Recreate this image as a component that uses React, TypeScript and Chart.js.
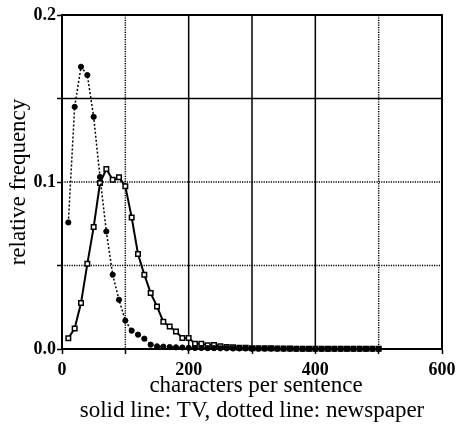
import React, { useEffect, useRef } from "react";
import { Chart, registerables } from "chart.js";

Chart.register(...registerables);

const charCounts = [
  10, 20, 30, 40, 50, 60, 70, 80, 90, 100,
  110, 120, 130, 140, 150, 160, 170, 180, 190, 200,
  210, 220, 230, 240, 250, 260, 270, 280, 290, 300,
  310, 320, 330, 340, 350, 360, 370, 380, 390, 400,
  410, 420, 430, 440, 450, 460, 470, 480, 490, 500,
];

const tvFreq = [
  0.0064, 0.0123, 0.0275, 0.051, 0.073, 0.0994, 0.1078, 0.1014, 0.1028, 0.0974,
  0.0788, 0.0569, 0.0445, 0.0335, 0.0255, 0.0163, 0.0135, 0.0105, 0.0066, 0.0066,
  0.0032, 0.0032, 0.0022, 0.0024, 0.0016, 0.0012, 0.001, 0.0008, 0.0007, 0.0005,
  0.0005, 0.0004, 0.0004, 0.0003, 0.0003, 0.0003, 0.0002, 0.0002, 0.0002, 0.0002,
  0.0001, 0.0002, 0.0001, 0.0001, 0.0001, 0.0001, 0.0001, 0.0001, 0.0001, 0.0001,
];

const newspaperFreq = [
  0.0758, 0.145, 0.169, 0.164, 0.139, 0.103, 0.0704, 0.0445, 0.0295, 0.017,
  0.011, 0.0086, 0.0062, 0.0026, 0.0016, 0.0014, 0.0012, 0.001, 0.0009, 0.0007,
  0.0006, 0.0006, 0.0005, 0.0005, 0.0004, 0.0004, 0.0003, 0.0003, 0.0003, 0.0002,
  0.0002, 0.0002, 0.0002, 0.0002, 0.0001, 0.0001, 0.0001, 0.0001, 0.0001, 0.0001,
  0.0001, 0.0001, 0.0001, 0.0001, 0.0001, 0.0001, 0.0001, 0.0001, 0.0001, 0.0001,
];

const xTickLabels = [0, 200, 400, 600];
const yTickLabels = ["0.0", "0.1", "0.2"];
const xSolidGrid = [200, 300, 400];
const xDottedGrid = [100, 500];
const ySolidGrid = [0.15];
const yDottedGrid = [0.05, 0.1];

const xTitle = "characters per sentence";
const caption = "solid line: TV, dotted line: newspaper";
const yTitle = "relative frequency";

const SERIF = "'Liberation Serif', 'Times New Roman', serif";

const framePlugin = {
  id: "framePlugin",
  beforeDatasetsDraw(chart: any) {
    const { ctx, chartArea, scales } = chart;
    const xs = scales.x;
    const ys = scales.y;
    ctx.save();
    ctx.strokeStyle = "#000";
    const line = (x1: number, y1: number, x2: number, y2: number, dash: number[], w: number) => {
      ctx.beginPath();
      ctx.setLineDash(dash);
      ctx.lineWidth = w;
      ctx.moveTo(x1, y1);
      ctx.lineTo(x2, y2);
      ctx.stroke();
    };
    xSolidGrid.forEach((v) => {
      const px = xs.getPixelForValue(v);
      line(px, chartArea.top, px, chartArea.bottom, [], 1.5);
    });
    xDottedGrid.forEach((v) => {
      const px = xs.getPixelForValue(v);
      line(px, chartArea.top, px, chartArea.bottom, [1.2, 1.2], 1.5);
    });
    ySolidGrid.forEach((v) => {
      const py = ys.getPixelForValue(v);
      line(chartArea.left, py, chartArea.right, py, [], 1.5);
    });
    yDottedGrid.forEach((v) => {
      const py = ys.getPixelForValue(v);
      line(chartArea.left, py, chartArea.right, py, [1.2, 1.2], 1.5);
    });
    // frame top and right
    line(chartArea.left, chartArea.top, chartArea.right + 1, chartArea.top, [], 2);
    line(chartArea.right, chartArea.top, chartArea.right, chartArea.bottom, [], 2);
    ctx.restore();
  },
  afterDraw(chart: any) {
    const { ctx, chartArea } = chart;
    ctx.save();
    ctx.fillStyle = "#000";
    ctx.font = `23px ${SERIF}`;
    ctx.textAlign = "center";
    ctx.textBaseline = "alphabetic";
    const cx = (chartArea.left + chartArea.right) / 2;
    ctx.fillText(xTitle, cx + 4, chartArea.bottom + 43);
    ctx.fillText(caption, cx, chartArea.bottom + 68);
    ctx.translate(25, (chartArea.top + chartArea.bottom) / 2);
    ctx.rotate(-Math.PI / 2);
    ctx.fillText(yTitle, 0, 0);
    ctx.restore();
  },
};

export default function App() {
  const canvasRef = useRef<HTMLCanvasElement | null>(null);

  useEffect(() => {
    if (!canvasRef.current) return;
    const tvPoints = charCounts.map((x, i) => ({ x, y: tvFreq[i] }));
    const newsPoints = charCounts.map((x, i) => ({ x, y: newspaperFreq[i] }));
    const chart = new Chart(canvasRef.current, {
      type: "line",
      data: {
        datasets: [
          {
            label: "newspaper",
            data: newsPoints,
            borderColor: "#000",
            backgroundColor: "#000",
            borderWidth: 1.5,
            borderDash: [2, 2],
            pointStyle: "circle",
            pointRadius: 2.6,
            pointBackgroundColor: "#000",
            pointBorderColor: "#000",
            pointBorderWidth: 1,
            tension: 0,
            clip: false,
          },
          {
            label: "TV",
            data: tvPoints,
            borderColor: "#000",
            backgroundColor: "#fff",
            borderWidth: 2,
            pointStyle: "rect",
            pointRadius: 3.2,
            pointBackgroundColor: "#fff",
            pointBorderColor: "#000",
            pointBorderWidth: 1.5,
            tension: 0,
            clip: false,
          },
        ],
      },
      options: {
        animation: false,
        responsive: false,
        devicePixelRatio: 1,
        layout: { padding: { left: 0, right: 15, top: 15, bottom: 0 } },
        plugins: {
          legend: { display: false },
          tooltip: { enabled: false },
          title: { display: false },
        },
        scales: {
          x: {
            type: "linear",
            min: 0,
            max: 600,
            afterFit: (scale: any) => {
              scale.height = 81;
              scale.paddingLeft = 0;
              scale.paddingRight = 0;
            },
            ticks: {
              stepSize: 100,
              autoSkip: false,
              maxRotation: 0,
              padding: 6,
              color: "#000",
              font: { family: SERIF, size: 18, weight: "bold" },
              callback: (v: any) => (xTickLabels.includes(Number(v)) ? String(v) : ""),
            },
            grid: {
              drawOnChartArea: false,
              drawTicks: true,
              tickLength: 5,
              tickColor: "#000",
              tickWidth: 1.5,
            },
            border: { display: true, color: "#000", width: 2 },
          },
          y: {
            type: "linear",
            min: 0,
            max: 0.2,
            afterFit: (scale: any) => {
              scale.width = 62;
              scale.paddingTop = 0;
              scale.paddingBottom = 0;
            },
            ticks: {
              stepSize: 0.05,
              autoSkip: false,
              padding: 1,
              color: "#000",
              font: { family: SERIF, size: 18, weight: "bold" },
              callback: (v: any) => {
                const s = Number(v).toFixed(1);
                const isMajor = Math.abs(Number(v) * 10 - Math.round(Number(v) * 10)) < 1e-6;
                return isMajor && yTickLabels.includes(s) ? s : "";
              },
            },
            grid: {
              drawOnChartArea: false,
              drawTicks: true,
              tickLength: 5,
              tickColor: "#000",
              tickWidth: 1.5,
            },
            border: { display: true, color: "#000", width: 2 },
          },
        },
      },
      plugins: [framePlugin],
    } as any);
    return () => chart.destroy();
  }, []);

  return (
    <div style={{ position: "absolute", left: 0, top: 0, width: 457, height: 430, background: "#fff" }}>
      <canvas ref={canvasRef} width={457} height={430} style={{ width: 457, height: 430 }} />
    </div>
  );
}
